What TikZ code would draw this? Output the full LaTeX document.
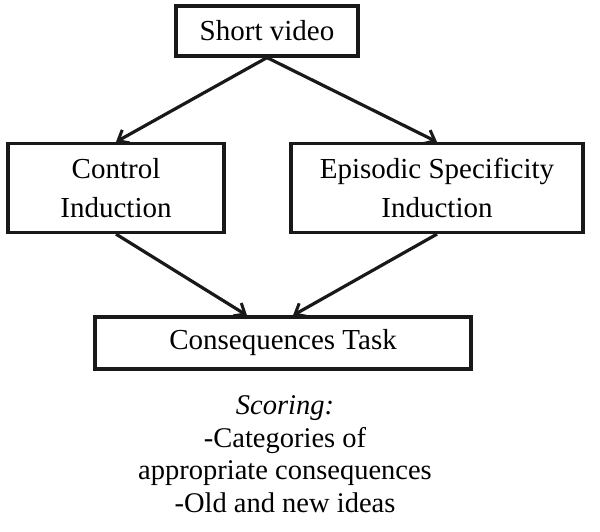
\documentclass[tikz,border=0pt]{standalone}
\usepackage{fontspec}
\setmainfont{Liberation Serif}
\usetikzlibrary{arrows.meta}
\begin{document}
\begin{tikzpicture}[x=1pt,y=-1pt,
  box/.style={draw=black!90, line width=3.2pt, align=center, inner sep=0pt, font=\fontsize{29}{39}\selectfont},
  conn/.style={draw=black!90, line width=3.2pt, -{Straight Barb[length=9pt,width=15pt,line width=3pt]}},
  note/.style={align=center, font=\fontsize{28.5}{32.5}\selectfont}]
\useasboundingbox (0,0) rectangle (600,532);
\node[box, minimum width=182pt, minimum height=50pt] (sv) at (267,31) {Short video};
\node[box, minimum width=216pt, minimum height=89pt] (ctl) at (116,188) {Control\\Induction};
\node[box, minimum width=292pt, minimum height=89pt] (esi) at (437,188) {Episodic Specificity\\Induction};
\node[box, minimum width=376pt, minimum height=52pt] (ct) at (283,343) {Consequences Task};
\node[note] (sc) at (285,454) {\textit{Scoring:}\\-Categories of\\appropriate consequences\\-Old and new ideas};
\draw[conn] (sv.south) -- (ctl.north);
\draw[conn] (sv.south) -- (esi.north);
\draw[conn] (ctl.south) -- ([xshift=-36pt]ct.north);
\draw[conn] (esi.south) -- ([xshift=10pt]ct.north);
\end{tikzpicture}
\end{document}
